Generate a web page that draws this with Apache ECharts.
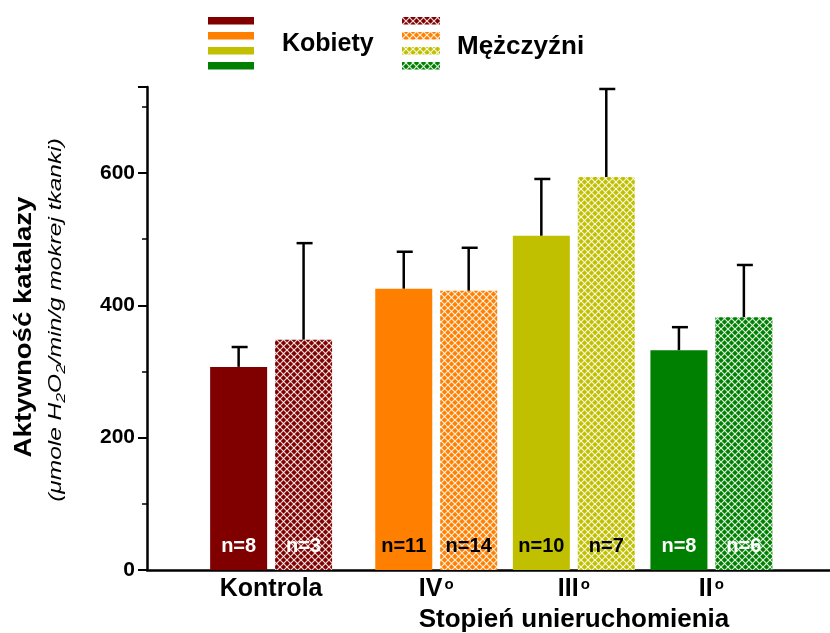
<!DOCTYPE html>
<html>
<head>
<meta charset="utf-8">
<script src="https://cdn.jsdelivr.net/npm/echarts@6/dist/echarts.min.js"></script>
<style>
  html, body { margin: 0; padding: 0; background: #fff; }
  #chart { width: 830px; height: 633px; }
</style>
</head>
<body>
<div id="chart"></div>
<script>
// Catalase activity by immobilisation grade, women vs men (mean + SD)
const categories = ['Kontrola', 'IV', 'III', 'II'];
const categorySup = ['', 'o', 'o', 'o'];
const femaleMean = [307, 425, 505, 332];
const femaleSD   = [30, 56, 86, 35];
const femaleN    = [8, 11, 10, 8];
const maleMean   = [348, 422, 594, 382];
const maleSD     = [146, 65, 133, 79];
const maleN      = [3, 14, 7, 6];
const yTicks     = [0, 200, 400, 600];

const groupColors = ['#800000', '#ff8000', '#c0c000', '#008000'];
const labelColors = ['#ffffff', '#000000', '#000000', '#ffffff'];

// group centres on the x scale (Kontrola set a little apart from the grades)
const groupPos = [1, 2.2, 3.2, 4.2];
const pairOffset = 0.236;

const FONT = '"Liberation Sans", Arial, Helvetica, sans-serif';

// white lattice over a solid colour for the men's bars
function latticePattern(color) {
  const s = 7;
  const c = document.createElement('canvas');
  c.width = s; c.height = s;
  const g = c.getContext('2d');
  g.fillStyle = color;
  g.fillRect(0, 0, s, s);
  g.strokeStyle = 'rgba(255,255,255,0.85)';
  g.lineWidth = 1.2;
  for (const d of [-s, 0, s]) {
    g.beginPath(); g.moveTo(d, 0); g.lineTo(d + s, s); g.stroke();
    g.beginPath(); g.moveTo(d + s, 0); g.lineTo(d, s); g.stroke();
  }
  return { image: c, repeat: 'repeat' };
}

const patterns = groupColors.map(latticePattern);

function barData(means, offset, fills, ns) {
  return means.map((v, i) => ({
    value: [groupPos[i] + offset, v],
    n: ns[i],
    itemStyle: { color: fills[i] },
    label: { color: labelColors[i] }
  }));
}

function errData(means, sds, offset) {
  return means.map((v, i) => [groupPos[i] + offset, v, v + sds[i]]);
}

const barLabel = {
  show: true,
  position: 'insideBottom',
  distance: 14,
  fontFamily: FONT,
  fontWeight: 'bold',
  fontSize: 20,
  formatter: p => 'n=' + p.data.n
};

const errorSeries = (data) => ({
  type: 'custom',
  data: data,
  z: 3,
  encode: { x: 0, y: [1, 2] },
  renderItem: (params, api) => {
    const x = api.value(0);
    const base = api.coord([x, api.value(1)]);
    const top = api.coord([x, api.value(2)]);
    return {
      type: 'group',
      children: [
        { type: 'line', shape: { x1: base[0], y1: base[1], x2: top[0], y2: top[1] },
          style: { stroke: '#000', lineWidth: 2.5 } },
        { type: 'line', shape: { x1: top[0] - 7, y1: top[1], x2: top[0] + 9, y2: top[1] },
          style: { stroke: '#000', lineWidth: 2.5 } }
      ]
    };
  }
});

// legend swatches: one strip per group colour
const legendGraphics = [];
groupColors.forEach((c, i) => {
  legendGraphics.push({ type: 'rect', shape: { x: 208, y: 17 + i * 15, width: 46, height: 7.5 },
    style: { fill: c } });
  legendGraphics.push({ type: 'rect', shape: { x: 402, y: 17 + i * 15, width: 38, height: 7.5 },
    style: { fill: patterns[i] } });
});
legendGraphics.push({ type: 'text', x: 282, y: 44,
  style: { text: 'Kobiety', font: 'bold 25px ' + FONT, fill: '#000', verticalAlign: 'middle' } });
legendGraphics.push({ type: 'text', x: 457, y: 47,
  style: { text: 'Mężczyźni', font: 'bold 26px ' + FONT, fill: '#000', verticalAlign: 'middle' } });

const titleGraphics = [
  { type: 'text', x: 25, y: 327, rotation: Math.PI / 2, scaleX: 1.2,
    style: { text: 'Aktywność katalazy', font: 'bold 23px ' + FONT, fill: '#000',
             align: 'center', verticalAlign: 'middle' } },
  { type: 'text', x: 56, y: 320, rotation: Math.PI / 2, scaleX: 1.36,
    style: {
      text: '(μmole H{s|2}O{s|2}/min/g mokrej tkanki)',
      fontFamily: FONT, fontStyle: 'italic', fontSize: 18, fill: '#000',
      align: 'center', verticalAlign: 'middle',
      rich: { s: { fontFamily: FONT, fontStyle: 'italic', fontSize: 13, verticalAlign: 'bottom',
                   lineHeight: 24, fill: '#000' } }
    } },
  { type: 'text', x: 574, y: 620,
    style: { text: 'Stopień unieruchomienia', font: 'bold 26px ' + FONT, fill: '#000',
             align: 'center', verticalAlign: 'middle' } }
];

const chart = echarts.init(document.getElementById('chart'), null, { renderer: 'canvas' });

chart.setOption({
  animation: false,
  backgroundColor: '#fff',
  grid: { left: 147, right: 0, top: 87, bottom: 63 },
  xAxis: {
    type: 'value',
    min: 0.098,
    max: 5.062,
    splitLine: { show: false },
    axisLine: { show: true, onZero: false, lineStyle: { color: '#000', width: 2.5 } },
    axisTick: { show: false },
    axisLabel: {
      customValues: groupPos,
      margin: 7,
      color: '#000',
      fontFamily: FONT,
      fontWeight: 'bold',
      fontSize: 25,
      formatter: (v) => {
        const i = groupPos.findIndex(p => Math.abs(p - v) < 1e-6);
        if (i < 0) return '';
        return categorySup[i] ? categories[i] + '{sup|' + categorySup[i] + '}' : categories[i];
      },
      rich: {
        sup: { fontFamily: FONT, fontWeight: 'bold', fontSize: 15, verticalAlign: 'top',
               padding: [0, 0, 0, 2], color: '#000' }
      }
    }
  },
  yAxis: {
    type: 'value',
    min: 0,
    max: 730,
    interval: 200,
    splitLine: { show: false },
    axisLine: { show: true, lineStyle: { color: '#000', width: 2.5 } },
    axisTick: { show: true, length: 9, lineStyle: { color: '#000', width: 2 } },
    minorTick: { show: true, splitNumber: 2, length: 5, lineStyle: { color: '#000', width: 1.5 } },
    axisLabel: {
      customValues: yTicks,
      margin: 12,
      color: '#000',
      fontFamily: FONT,
      fontWeight: 'bold',
      fontSize: 21
    }
  },
  graphic: legendGraphics.concat(titleGraphics),
  series: [
    errorSeries(errData(femaleMean, femaleSD, -pairOffset)),
    errorSeries(errData(maleMean, maleSD, pairOffset)),
    {
      type: 'bar', name: 'Kobiety', barWidth: 57, barGap: '-100%', z: 4,
      data: barData(femaleMean, -pairOffset, groupColors, femaleN),
      label: barLabel
    },
    {
      type: 'bar', name: 'Mężczyźni', barWidth: 57, barGap: '-100%', z: 4,
      data: barData(maleMean, pairOffset, patterns, maleN),
      label: barLabel
    }
  ]
});
</script>
</body>
</html>
